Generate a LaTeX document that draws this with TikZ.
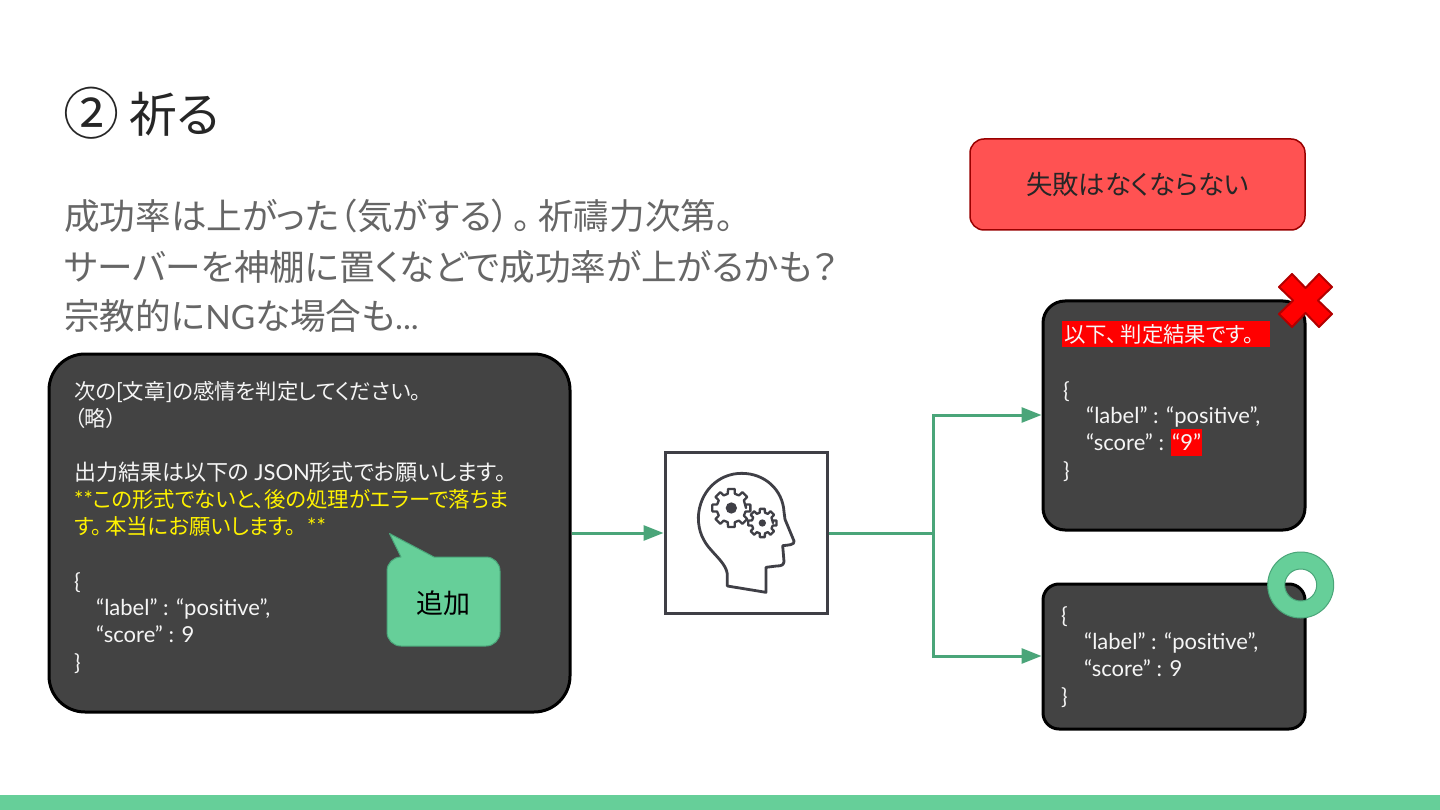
\documentclass[tikz,border=0pt]{standalone}
\usepackage{fontspec}
\setmainfont{Noto Sans CJK JP}[RawFeature=+palt]
\newfontfamily\latfont{Lato}
\newcommand{\lat}[1]{{\latfont\fontsize{22}{22}\selectfont #1}}
\newcommand{\latbig}[1]{{\latfont\fontsize{33.5}{33.5}\selectfont #1}}
\usetikzlibrary{arrows.meta}
\definecolor{mint}{HTML}{66CF99}
\definecolor{mintdark}{HTML}{4AA579}
\definecolor{panel}{HTML}{434343}
\definecolor{headgrey}{HTML}{666666}
\definecolor{inkdark}{HTML}{3F3F46}
\tikzset{
  x=1pt,y=-1pt,
  darkpanel/.style={draw=black,line width=3pt,fill=panel},
  titletext/.style={anchor=base west,inner sep=0pt,font=\fontsize{48}{48}\selectfont,text=black!85},
  headtext/.style={anchor=base west,inner sep=0pt,font=\fontsize{35.6}{35.6}\selectfont,text=headgrey},
  bodytext/.style={anchor=base west,inner sep=0pt,font=\fontsize{21.4}{21.4}\selectfont,text=white!96!black},
  yellowtext/.style={bodytext,text=yellow},
  codetext/.style={bodytext,font=\fontsize{22}{22}\selectfont\latfont},
  flow/.style={draw=mintdark,line width=3pt},
  flowtip/.style={flow,-{Triangle[length=20pt,width=15pt]}},
}
\newcommand{\gear}[5]{% x y outer root dot
  \def\gx{#1}\def\gy{#2}\def\gro{#3}\def\gri{#4}
  \draw[inkdark,line width=2.3pt,line join=round,fill=white]
    (\gx+\gri,\gy)
    \foreach \a in {0,45,...,315}{
      -- ({\gx+\gri*cos(\a-14)},{\gy+\gri*sin(\a-14)})
      -- ({\gx+\gro*cos(\a-10)},{\gy+\gro*sin(\a-10)})
      -- ({\gx+\gro*cos(\a+10)},{\gy+\gro*sin(\a+10)})
      -- ({\gx+\gri*cos(\a+14)},{\gy+\gri*sin(\a+14)})
    } -- cycle;
  \fill[inkdark] (\gx,\gy) circle (#5);
}
\begin{document}
\begin{tikzpicture}
\useasboundingbox (0,0) rectangle (1440,810);
\fill[white] (0,0) rectangle (1440,810);
\fill[mint] (0,795) rectangle (1440,810);

\node[titletext] (title) at (63,133) {\raisebox{-2pt}{\fontsize{56}{56}\selectfont ②}\hspace{10pt}祈る};
\node[headtext] (h1) at (64,230) {成功率は上がった（気がする）\hspace{4pt}。\hspace{7pt}祈禱力次第。};
\node[headtext] (h2) at (64,280) {サーバーを神棚に置くなどで成功率が上がるかも？};
\node[headtext] (h3) at (64,330) {宗教的に\latbig{NG}な場合も\latbig{...}};

% failure note
\node[draw=red!60!black,line width=1.5pt,fill=red!68!white,rounded corners=14pt,minimum width=335pt,minimum height=91pt,inner sep=0pt,
  text=black!85] (fail) at (1137.5,184.5) {\raisebox{-2pt}{\fontsize{26.4}{26.4}\selectfont 失敗はなくならない}};

% prompt panel
\node[darkpanel,rounded corners=36pt,minimum width=521pt,minimum height=358pt,inner sep=0pt] (prompt) at (309.5,533) {};
\node[bodytext] (p1) at (74,399) {次の\lat{[}文章\lat{]}の感情を判定してください。};
\node[bodytext] (p2) at (74,426) {（略）};
\node[bodytext,font=\fontsize{22}{22}\selectfont] (p3) at (74,480) {出力結果は以下の \lat{JSON}形式でお願いします。};
\node[yellowtext] (p4) at (74,507) {\lat{**}この形式でないと、後の処理がエラーで落ちま};
\node[yellowtext] (p5) at (74,534) {す。\hspace{3pt}本当にお願いします。\hspace{6pt} \lat{**}};
\node[codetext] (p6) at (74,589) {\{};
\node[codetext] (p7) at (96,615) {“label” : “positive”,};
\node[codetext] (p8) at (96,642) {“score” : 9};
\node[codetext] (p9) at (74,670) {\}};

% speech bubble
\draw[mintdark,line width=1pt,fill=mint,line join=round]
  (401,557) -- (389.5,533.5) -- (434,557) -- (486,557)
  arc[start angle=-90,end angle=0,radius=14] -- (500,632)
  arc[start angle=0,end angle=90,radius=14] -- (401,646)
  arc[start angle=90,end angle=180,radius=14] -- (387,571)
  arc[start angle=180,end angle=270,radius=14] -- cycle;
\node[inner sep=0pt,font=\fontsize{27}{27}\selectfont,text=black] (add) at (443,603) {追加};

% brain box
\node[draw=inkdark,line width=3pt,fill=white,minimum width=162pt,minimum height=161pt,inner sep=0pt] (brain) at (746,533) {};
\begin{scope}[shift={(640,430)},x=.33333pt,y=-.33333pt]
  \draw[inkdark,line width=2.8pt,line join=round,fill=white]
    (262,468) -- (262,432) .. controls (258,405) and (235,385) .. (215,362)
    .. controls (190,335) and (175,305) .. (175,262)
    .. controls (178,185) and (235,130) .. (305,130)
    .. controls (375,130) and (428,180) .. (432,245)
    -- (435,268) -- (462,333) .. controls (465,345) and (445,345) .. (428,347)
    -- (432,395) .. controls (430,405) and (425,408) .. (410,408)
    -- (378,412) -- (378,487) -- cycle;
  \gear{274}{234}{58}{44}{17}
  \gear{367}{279}{43}{32}{11}
\end{scope}

% result panels
\node[darkpanel,rounded corners=22pt,minimum width=262pt,minimum height=229pt,inner sep=0pt] (bad) at (1174,415.5) {};
\node[darkpanel,rounded corners=16pt,minimum width=262pt,minimum height=145pt,inner sep=0pt] (good) at (1174,656.5) {};

\fill[red] (1062,321) rectangle (1270,347);
\node[bodytext] (b1) at (1064,342) {以下、\hspace{3pt}判定結果です。\hspace{2pt}};
\node[codetext] (b2) at (1063,398) {\{};
\node[codetext] (b3) at (1086,423) {“label” : “positive”,};
\node[codetext] (b4) at (1086,450) {“score” :};
\fill[red] (1171,429) rectangle (1202,456);
\node[codetext] (b5) at (1172,450) {“9”};
\node[codetext] (b6) at (1063,478) {\}};

\node[codetext] (g1) at (1061,623) {\{};
\node[codetext] (g2) at (1084,649) {“label” : “positive”,};
\node[codetext] (g3) at (1084,676) {“score” : 9};
\node[codetext] (g4) at (1061,704) {\}};

% marks
\draw[draw=red!70!black,line width=2pt,fill=red,line join=round]
  (1292,274) -- (1305.5,288) -- (1319,274) -- (1332,287) -- (1318,300.5) -- (1332,314) -- (1319,327)
  -- (1305.5,313) -- (1292,327) -- (1279,314) -- (1293,300.5) -- (1279,287) -- cycle;
\draw[mintdark,line width=1pt,fill=mint,even odd rule]
  (1300.7,585) circle (33) (1300.7,585) circle (16);

% connectors
\coordinate (fork) at (933,533);
\draw[flowtip] (prompt.east) -- (brain.west);
\draw[flow] (brain.east) -- (fork);
\draw[flowtip] (fork) |- (bad.west |- 0,415);
\draw[flowtip] (fork) |- (good.west |- 0,656);
\end{tikzpicture}
\end{document}
